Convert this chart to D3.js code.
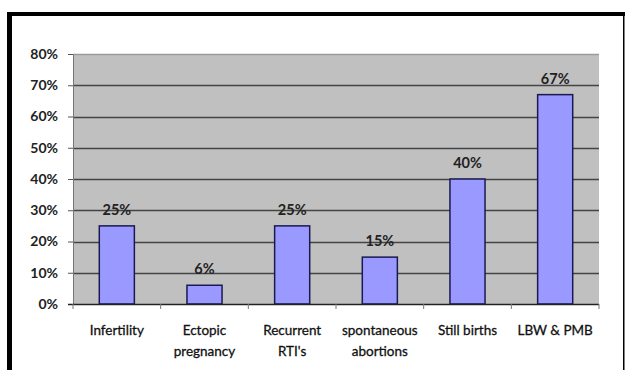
<!DOCTYPE html>
<html>
<head>
<meta charset="utf-8">
<script src="https://cdn.jsdelivr.net/npm/d3@7"></script>
<style>
  body { margin: 0; background: #fff; }
  svg { display: block; }
</style>
</head>
<body>
<div id="chart"></div>
<script>
// data
var categories = ["Infertility", "Ectopic pregnancy", "Recurrent RTI's", "spontaneous abortions", "Still births", "LBW & PMB"];
var catLines = [["Infertility"], ["Ectopic", "pregnancy"], ["Recurrent", "RTI's"], ["spontaneous", "abortions"], ["Still births"], ["LBW & PMB"]];
var values = [25, 6, 25, 15, 40, 67];
var yTicks = [0, 10, 20, 30, 40, 50, 60, 70, 80];

var width = 626, height = 370;
var margin = {left: 73, top: 54, right: 27, bottom: 66};

var svg = d3.select("#chart").append("svg")
    .attr("width", width)
    .attr("height", height);

// frame
svg.append("rect").attr("x", 7).attr("y", 12).attr("width", 5).attr("height", height - 12).attr("fill", "#000");
svg.append("rect").attr("x", 7).attr("y", 12).attr("width", 618).attr("height", 4).attr("fill", "#000");
svg.append("rect").attr("x", 623).attr("y", 12).attr("width", 1.5).attr("height", height - 12).attr("fill", "#000");

var x = d3.scaleBand()
    .domain(categories)
    .range([margin.left, width - margin.right])
    .paddingInner(0.6)
    .paddingOuter(0.3);

var y = d3.scaleLinear()
    .domain([0, 80])
    .range([height - margin.bottom, margin.top]);

// plot background
svg.append("rect")
    .attr("x", margin.left)
    .attr("y", y(80))
    .attr("width", width - margin.right - margin.left)
    .attr("height", y(0) - y(80))
    .attr("fill", "#c0c0c0");

// gridlines
svg.append("g")
    .selectAll("line")
    .data(yTicks.slice(1))
    .join("line")
    .attr("x1", margin.left)
    .attr("x2", width - margin.right)
    .attr("y1", function(d) { return Math.round(y(d)) + 0.5; })
    .attr("y2", function(d) { return Math.round(y(d)) + 0.5; })
    .attr("stroke", function(d) { return d == 80 ? "#9a9a9a" : "#444"; })
    .attr("stroke-width", 1.5);

// y axis
var yAxis = svg.append("g")
    .attr("transform", "translate(" + margin.left + ",0)")
    .call(d3.axisLeft(y).tickValues(yTicks).tickSize(5).tickPadding(10)
        .tickFormat(function(d) { return d + "%"; }));
yAxis.select(".domain").attr("stroke", "#777");
yAxis.selectAll(".tick line").attr("stroke", "#555");
yAxis.selectAll("text")
    .attr("font-family", "Lato, 'Open Sans', sans-serif")
    .attr("font-size", 14)
    .attr("font-weight", "bold")
    .attr("fill", "#222");

// bars
svg.append("g")
    .selectAll("rect")
    .data(values)
    .join("rect")
    .attr("x", function(d, i) { return x(categories[i]); })
    .attr("y", function(d) { return y(d); })
    .attr("width", x.bandwidth())
    .attr("height", function(d) { return y(0) - y(d); })
    .attr("fill", "#9999ff")
    .attr("stroke", "#1a1a50")
    .attr("stroke-width", 1.5);

// value labels
svg.append("g")
    .selectAll("text")
    .data(values)
    .join("text")
    .attr("x", function(d, i) { return x(categories[i]) + x.bandwidth() / 2; })
    .attr("y", function(d) { return y(d) - 11; })
    .attr("text-anchor", "middle")
    .attr("font-family", "Lato, 'Open Sans', sans-serif")
    .attr("font-size", 14.5)
    .attr("font-weight", "bold")
    .attr("fill", "#222")
    .text(function(d) { return d + "%"; });

// x axis line and ticks at category edges
var edges = d3.range(categories.length + 1).map(function(i) { return margin.left + i * (width - margin.right - margin.left) / categories.length; });
svg.append("line")
    .attr("x1", margin.left - 5).attr("x2", width - margin.right)
    .attr("y1", y(0) + 0.5).attr("y2", y(0) + 0.5)
    .attr("stroke", "#222").attr("stroke-width", 1.5);
svg.append("g")
    .selectAll("line")
    .data(edges)
    .join("line")
    .attr("x1", function(d) { return d; })
    .attr("x2", function(d) { return d; })
    .attr("y1", y(0))
    .attr("y2", y(0) + 5)
    .attr("stroke", "#777");

// category labels
var labels = svg.append("g")
    .selectAll("text")
    .data(catLines)
    .join("text")
    .attr("x", function(d, i) { return x(categories[i]) + x.bandwidth() / 2; })
    .attr("y", 335)
    .attr("text-anchor", "middle")
    .attr("font-family", "Lato, 'Open Sans', sans-serif")
    .attr("font-size", 13.5)
    .attr("fill", "#111")
    .attr("stroke", "#111")
    .attr("stroke-width", 0.3);
labels.selectAll("tspan")
    .data(function(d) { return d; })
    .join("tspan")
    .attr("x", function() { return d3.select(this.parentNode).attr("x"); })
    .attr("dy", function(d, i) { return i == 0 ? 0 : 21; })
    .text(function(d) { return d; });
</script>
</body>
</html>
